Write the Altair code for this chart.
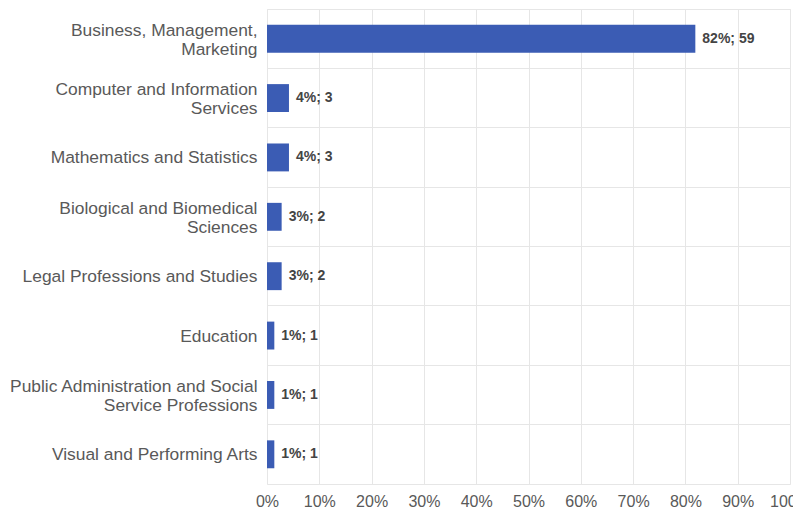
import altair as alt
import pandas as pd

categories = [
    "Business, Management,|Marketing",
    "Computer and Information|Services",
    "Mathematics and Statistics",
    "Biological and Biomedical|Sciences",
    "Legal Professions and Studies",
    "Education",
    "Public Administration and Social|Service Professions",
    "Visual and Performing Arts",
]
shares = [0.819, 0.042, 0.042, 0.028, 0.028, 0.014, 0.014, 0.014]
counts = [59, 3, 3, 2, 2, 1, 1, 1]
label_pcts = [82, 4, 4, 3, 3, 1, 1, 1]
tick_values = [0, 0.1, 0.2, 0.3, 0.4, 0.5, 0.6, 0.7, 0.8, 0.9, 1.0]

df = pd.DataFrame({
    "category": categories,
    "share": shares,
    "count": counts,
    "label": [f"{p}%; {n}" for p, n in zip(label_pcts, counts)],
})

FONT = "Liberation Sans, Arial, sans-serif"

y_enc = alt.Y(
    "category:N",
    sort=categories,
    scale=alt.Scale(paddingInner=0, paddingOuter=0),
    axis=alt.Axis(
        title=None,
        labelExpr="split(datum.label, '|')",
        labelFont=FONT,
        labelFontSize=17.4,
        labelColor="#595959",
        labelLineHeight=19,
        labelPadding=10,
        labelLimit=300,
        labelOffset={
            "condition": {"test": "indexof(datum.label, '|') >= 0", "value": -8},
            "value": 1,
        },
        ticks=False,
        domain=False,
        grid=True,
        bandPosition=0,
        gridColor="#e6e6e6",
    ),
)

x_enc = alt.X(
    "share:Q",
    scale=alt.Scale(domain=[0, 1]),
    axis=alt.Axis(
        title=None,
        values=tick_values,
        format=".0%",
        labelFont=FONT,
        labelFontSize=16,
        labelColor="#595959",
        labelPadding=9,
        labelOverlap=False,
        labelFlush=False,
        ticks=False,
        domain=False,
        grid=True,
        gridColor="#e6e6e6",
    ),
)

bars = alt.Chart(df).mark_bar(
    color="#3b5cb4", height=alt.RelativeBandSize(0.47)
).encode(y=y_enc, x=x_enc)

texts = alt.Chart(df).mark_text(
    align="left", baseline="middle", dx=7, font=FONT, fontSize=14,
    fontWeight="bold", color="#444444"
).encode(
    y=alt.Y("category:N", sort=categories),
    x=alt.X("share:Q"),
    text="label:N",
)

chart = (
    alt.layer(bars, texts)
    .properties(
        width=523,
        height=475,
        autosize=alt.AutoSizeParams(type="none"),
        padding={"left": 259, "top": 1, "right": 3, "bottom": 26},
        background="white",
    )
    .configure_view(stroke="#e6e6e6")
)

chart.save("out.html", embed_options={"renderer": "svg", "actions": False})
